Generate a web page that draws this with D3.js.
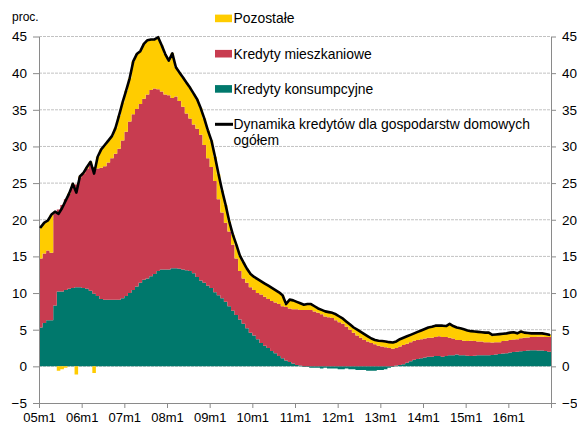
<!DOCTYPE html>
<html>
<head>
<meta charset="utf-8">
<script src="https://cdn.jsdelivr.net/npm/d3@7"></script>
<style>
  body { margin: 0; background: #fff; }
  svg text { font-family: "Liberation Sans", Arial, sans-serif; fill: #000; }
</style>
</head>
<body>
<svg id="chart" width="577" height="426"></svg>
<script>
// monthly data 2005m1 - 2016m12, percent y/y contributions
const consumer = [
  5.3, 5.9, 6.3, 6.3, 8.3, 10.2, 10.2, 10.4, 10.6, 10.7, 10.8, 10.8,
  10.7, 10.6, 10.3, 9.9, 9.6, 9.2, 9.1, 9.1, 9.1, 9.1, 9.1, 9.3,
  9.6, 10.0, 10.4, 10.9, 11.4, 11.8, 12.0, 12.3, 12.6, 13.0, 13.2, 13.2,
  13.2, 13.4, 13.4, 13.3, 13.2, 13.1, 13.0, 12.7, 12.2, 11.7, 11.4, 11.0,
  10.7, 10.1, 9.7, 9.3, 8.8, 8.2, 7.6, 7.0, 6.4, 5.8, 5.2, 4.6,
  4.2, 3.7, 3.2, 2.8, 2.5, 2.1, 1.8, 1.4, 1.1, 0.8, 0.6, 0.4,
  0.2, 0.1, -0.1, -0.1, -0.2, -0.2, -0.2, -0.3, -0.2, -0.3, -0.3, -0.3,
  -0.4, -0.4, -0.3, -0.4, -0.4, -0.5, -0.5, -0.5, -0.6, -0.6, -0.6, -0.5,
  -0.5, -0.4, -0.2, -0.1, 0.1, 0.2, 0.3, 0.5, 0.7, 0.9, 1.0, 1.1,
  1.2, 1.3, 1.3, 1.4, 1.4, 1.3, 1.4, 1.5, 1.5, 1.6, 1.5, 1.5,
  1.45, 1.4, 1.45, 1.5, 1.5, 1.5, 1.5, 1.55, 1.6, 1.7, 1.75, 1.8,
  1.9, 1.95, 2.0, 2.05, 2.1, 2.15, 2.2, 2.2, 2.15, 2.15, 2.1, 2.0
]
const mortgage = [
  9.4, 9.5, 9.5, 9.2, 12.6, 11.2, 11.8, 12.4, 12.9, 14.1, 14.0, 15.0,
  15.6, 16.4, 17.3, 17.3, 17.4, 17.9, 18.2, 18.7, 19.3, 19.9, 20.6, 21.5,
  22.4, 23.4, 24.0, 24.2, 24.4, 24.7, 25.1, 25.4, 25.3, 24.8, 24.3, 23.9,
  23.8, 23.2, 23.4, 22.9, 22.2, 21.4, 20.8, 20.3, 20.2, 19.9, 18.8, 17.4,
  16.5, 15.2, 13.1, 11.7, 10.8, 10.2, 9.0, 7.7, 6.6, 6.2, 6.2, 6.2,
  6.2, 6.3, 6.6, 6.7, 6.7, 6.8, 6.9, 7.1, 7.1, 7.3, 7.3, 7.4,
  7.6, 7.6, 7.7, 7.7, 7.7, 7.5, 7.3, 7.1, 6.8, 6.7, 6.6, 6.3,
  6.0, 5.8, 5.4, 5.0, 4.6, 4.2, 3.9, 3.6, 3.4, 3.2, 3.0, 2.8,
  2.7, 2.6, 2.5, 2.4, 2.4, 2.5, 2.6, 2.6, 2.6, 2.6, 2.6, 2.6,
  2.6, 2.6, 2.6, 2.6, 2.7, 2.7, 2.6, 2.4, 2.3, 2.0, 2.1, 2.0,
  2.0, 2.1, 2.0, 1.9, 1.9, 1.8, 1.8, 1.7, 1.7, 1.6, 1.7, 1.7,
  1.7, 1.7, 1.7, 1.8, 1.8, 1.8, 1.8, 1.8, 1.9, 1.9, 1.9, 2.0
]
const other = [
  4.3, 4.2, 4.1, 5.2, 0.2, -0.6, -0.4, -0.2, 0.1, 0.1, -1.1, 0.1,
  0.1, 0.2, 0.3, -0.9, 1.6, 2.5, 2.9, 3.0, 3.0, 3.5, 4.5, 5.2,
  5.6, 5.9, 7.2, 7.5, 7.2, 7.5, 7.4, 6.9, 6.7, 7.1, 6.3, 5.5,
  4.7, 6.1, 4.0, 3.9, 4.0, 4.2, 4.2, 4.2, 4.0, 3.6, 3.6, 3.8,
  3.6, 3.3, 3.4, 3.0, 2.4, 1.4, 1.4, 1.9, 2.1, 2.2, 1.9, 1.8,
  1.8, 1.9, 1.8, 1.8, 1.8, 1.8, 1.7, 1.6, 1.5, 0.4, 1.2, 1.2,
  1.0, 0.9, 0.7, 0.8, 0.8, 0.7, 0.6, 0.6, 0.7, 0.7, 0.7, 0.8,
  0.8, 0.7, 0.7, 0.7, 0.7, 0.8, 0.8, 0.8, 0.7, 0.6, 0.6, 0.7,
  0.7, 0.8, 0.8, 0.9, 0.9, 1.0, 1.0, 1.0, 1.0, 1.0, 1.1, 1.2,
  1.3, 1.4, 1.5, 1.5, 1.5, 1.5, 1.5, 1.9, 1.7, 1.7, 1.6, 1.6,
  1.5, 1.3, 1.3, 1.3, 1.3, 1.3, 1.3, 1.0, 1.1, 1.1, 1.0, 1.0,
  1.0, 1.0, 0.8, 1.0, 0.8, 0.6, 0.5, 0.5, 0.5, 0.5, 0.4, 0.3
]
const total = [
  19.0, 19.6, 19.9, 20.7, 21.1, 20.8, 21.6, 22.6, 23.6, 24.9, 23.7, 25.9,
  26.4, 27.2, 27.9, 26.3, 28.6, 29.6, 30.2, 30.8, 31.4, 32.5, 34.2, 36.0,
  37.6, 39.3, 41.6, 42.6, 43.0, 44.0, 44.5, 44.6, 44.6, 44.9, 43.8, 42.6,
  41.7, 42.7, 40.8, 40.1, 39.4, 38.7, 38.0, 37.2, 36.4, 35.2, 33.8, 32.2,
  30.8, 28.6, 26.2, 24.0, 22.0, 19.8, 18.0, 16.6, 15.1, 14.2, 13.3, 12.6,
  12.2, 11.9, 11.6, 11.3, 11.0, 10.7, 10.4, 10.1, 9.7, 8.5, 9.1, 9.0,
  8.8, 8.6, 8.4, 8.5, 8.5, 8.2, 7.9, 7.7, 7.5, 7.4, 7.3, 7.1,
  6.8, 6.5, 6.1, 5.7, 5.3, 5.0, 4.7, 4.4, 4.1, 3.8, 3.6, 3.5,
  3.45, 3.4, 3.3, 3.25, 3.4, 3.7, 3.9, 4.1, 4.3, 4.5, 4.7, 4.9,
  5.1, 5.3, 5.4, 5.55, 5.55, 5.55, 5.5, 5.8, 5.5, 5.3, 5.2, 5.05,
  4.9, 4.8, 4.75, 4.7, 4.65, 4.6, 4.6, 4.3, 4.35, 4.4, 4.45, 4.5,
  4.6, 4.65, 4.5, 4.75, 4.6, 4.55, 4.5, 4.5, 4.5, 4.5, 4.4, 4.3
]

const years = ["05", "06", "07", "08", "09", "10", "11", "12", "13", "14", "15", "16"]
const yearLabels = years.map(yy => yy + "m1")
const yTicks = [-5, 0, 5, 10, 15, 20, 25, 30, 35, 40, 45]

const keys = ["consumer", "mortgage", "other"]
const colors = {consumer: "#00786c", mortgage: "#c83c50", other: "#ffcc00"}
const legendItems = [
  {key: "other", label: ["Pozostałe"]},
  {key: "mortgage", label: ["Kredyty mieszkaniowe"]},
  {key: "consumer", label: ["Kredyty konsumpcyjne"]},
  {key: "total", label: ["Dynamika kredytów dla gospodarstw domowych", "ogółem"]}
]

const months = []
years.forEach(yy => { for (let m = 1; m <= 12; m++) months.push(yy + "m" + m) })

const rows = months.map((m, i) => ({
  i: i, consumer: consumer[i], mortgage: mortgage[i], other: other[i], total: total[i]
}))

const svg = d3.select("#chart")

const x = d3.scaleLinear().domain([0, months.length]).range([39, 551])
const y = d3.scaleLinear().domain([-5, 45]).range([403, 36.5])

// gridlines
svg.append("g")
  .selectAll("line")
  .data(yTicks.filter(v => v > -5))
  .join("line")
  .attr("x1", 39).attr("x2", 551)
  .attr("y1", d => y(d)).attr("y2", d => y(d))
  .attr("stroke", "#c2c2c2")
  .attr("stroke-dasharray", "3,1")

// stacked bars, drawn as one stepped shape per series so adjacent bars have no seams
const stacked = d3.stack().keys(keys).offset(d3.stackOffsetDiverging)(rows)

const barArea = d3.area()
  .curve(d3.curveStepAfter)
  .x(p => x(p.i))
  .y0(p => y(p.lo))
  .y1(p => y(p.hi))

svg.append("g")
  .selectAll("path")
  .data(stacked)
  .join("path")
  .attr("fill", s => colors[s.key])
  .attr("d", s => {
    const pts = s.map(d => ({i: d.data.i, lo: d[0], hi: d[1]}))
    const last = pts[pts.length - 1]
    pts.push({i: last.i + 1, lo: last.lo, hi: last.hi})
    return barArea(pts)
  })

// axes
const axisColor = "#8a8a8a"

const left = svg.append("g")
  .attr("transform", "translate(39,0)")
  .call(d3.axisLeft(y).tickValues(yTicks).tickSizeInner(6).tickSizeOuter(0).tickPadding(6))
const right = svg.append("g")
  .attr("transform", "translate(551,0)")
  .call(d3.axisRight(y).tickValues(yTicks).tickSizeInner(5).tickSizeOuter(0).tickPadding(6))
const bottom = svg.append("g")
  .attr("transform", "translate(0,403)")
  .call(d3.axisBottom(x)
    .tickValues(d3.range(0, months.length + 1, 12))
    .tickSizeInner(5).tickSizeOuter(0).tickPadding(5)
    .tickFormat(v => yearLabels[v / 12] || ""))

;[left, right, bottom].forEach(g => {
  g.attr("font-family", null).attr("font-size", null)
  g.selectAll("path, line").attr("stroke", axisColor)
  g.selectAll("text").style("font-size", "13.5px")
})
bottom.selectAll("text").style("font-size", "13px")

// total line
const line = d3.line()
  .x(d => x(d.i + 0.5))
  .y(d => y(d.total))

svg.append("path")
  .datum(rows)
  .attr("fill", "none")
  .attr("stroke", "#000")
  .attr("stroke-width", 2.6)
  .attr("stroke-linejoin", "round")
  .attr("stroke-linecap", "round")
  .attr("d", line)

// unit label
svg.append("text")
  .attr("x", 12).attr("y", 20.5)
  .style("font-size", "12px")
  .text("proc.")

// legend
const legend = svg.append("g").attr("transform", "translate(215,0)")
const rowY = [18.4, 53.7, 88.9, 124.3]
legendItems.forEach((it, k) => {
  const cy = rowY[k]
  if (it.key === "total") {
    legend.append("line")
      .attr("x1", 0).attr("x2", 18).attr("y1", cy).attr("y2", cy)
      .attr("stroke", "#000").attr("stroke-width", 3)
  } else {
    legend.append("rect")
      .attr("x", 0).attr("y", cy - 3.8).attr("width", 17).attr("height", 7.6)
      .attr("fill", colors[it.key])
  }
  it.label.forEach((t, j) => {
    legend.append("text")
      .attr("x", 18.5).attr("y", cy + 5 + j * 15.5)
      .style("font-size", "13.9px")
      .text(t)
  })
})
</script>
</body>
</html>
